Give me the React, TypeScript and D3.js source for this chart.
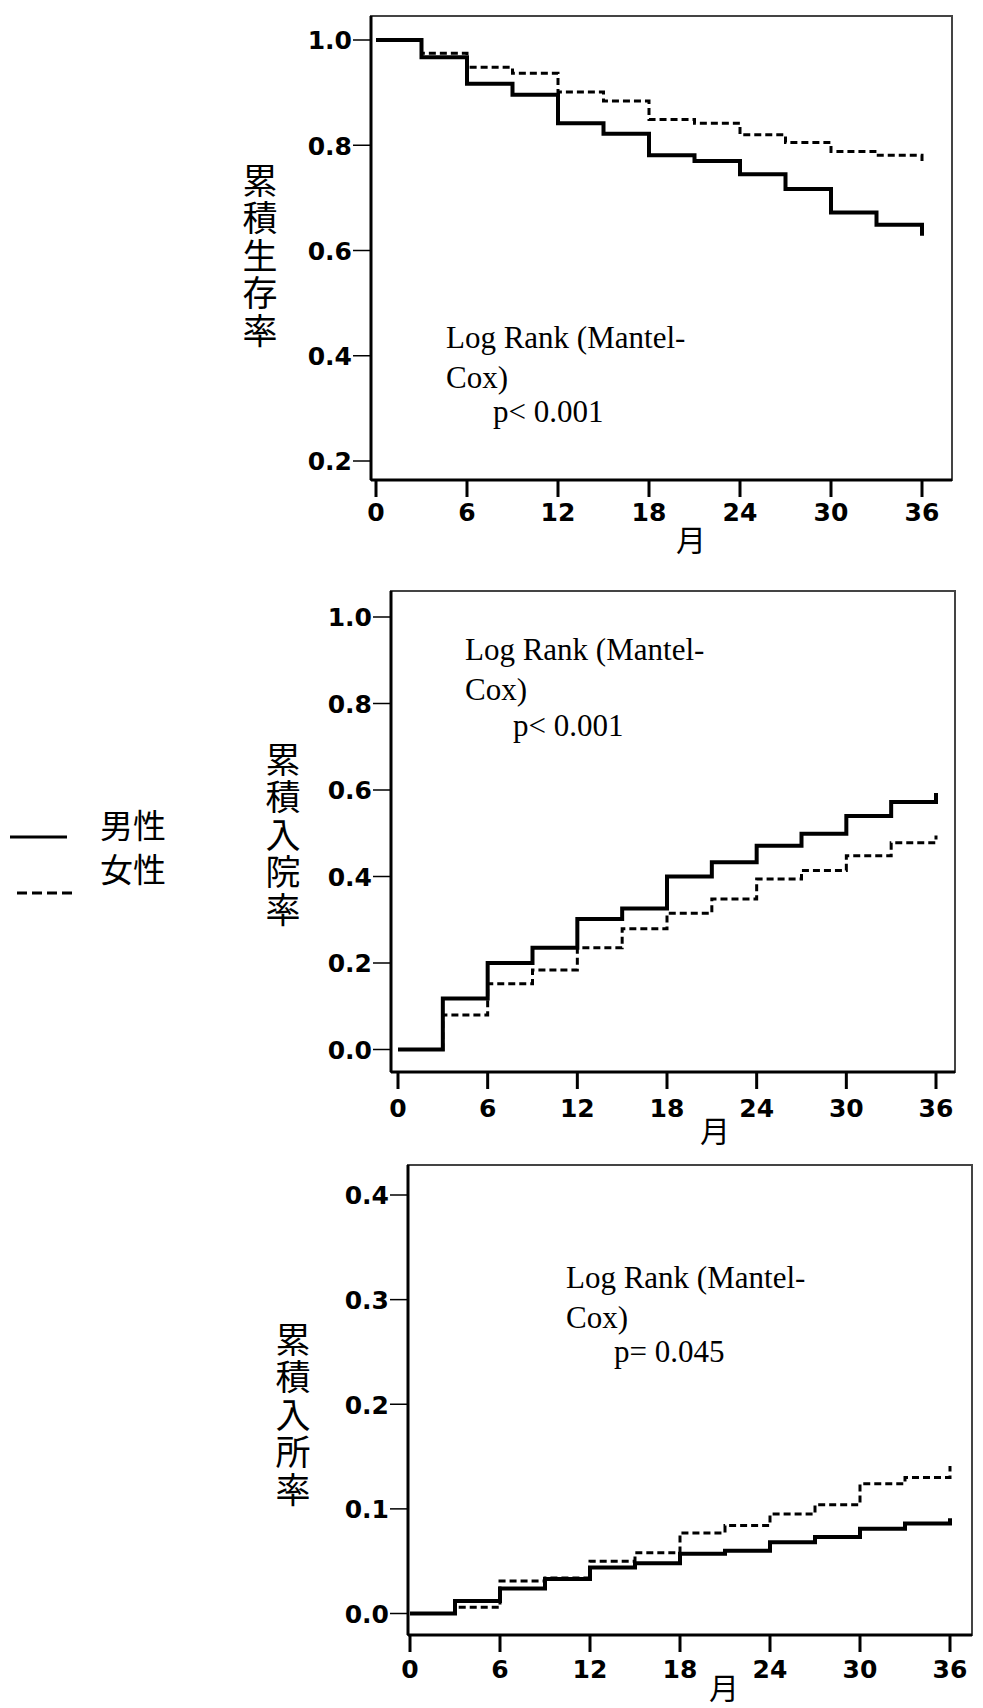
import * as d3 from 'd3'

// months at which the Kaplan-Meier steps change
const months = [0, 3, 6, 9, 12, 15, 18, 21, 24, 27, 30, 33, 36]
const xTicks = [0, 6, 12, 18, 24, 30, 36]

// 累積生存率
const survivalMale = [1.0, 0.967, 0.917, 0.896, 0.842, 0.822, 0.781, 0.770, 0.745, 0.717, 0.672, 0.649, 0.628]
const survivalFemale = [1.0, 0.975, 0.948, 0.937, 0.901, 0.884, 0.849, 0.842, 0.820, 0.805, 0.788, 0.781, 0.764]
// 累積入院率
const admissionMale = [0, 0.118, 0.2, 0.235, 0.302, 0.326, 0.40, 0.433, 0.471, 0.499, 0.540, 0.572, 0.593]
const admissionFemale = [0, 0.080, 0.152, 0.184, 0.235, 0.279, 0.315, 0.348, 0.394, 0.414, 0.448, 0.478, 0.495]
// 累積入所率
const institutionMale = [0, 0.012, 0.024, 0.033, 0.044, 0.048, 0.057, 0.060, 0.068, 0.073, 0.081, 0.086, 0.091]
const institutionFemale = [0, 0.006, 0.031, 0.034, 0.050, 0.058, 0.077, 0.084, 0.095, 0.104, 0.124, 0.130, 0.141]

const survivalTicks = [0.2, 0.4, 0.6, 0.8, 1.0]
const admissionTicks = [0, 0.2, 0.4, 0.6, 0.8, 1.0]
const institutionTicks = [0, 0.1, 0.2, 0.3, 0.4]

const yTitles = ['累積生存率', '累積入院率', '累積入所率']
const pTexts = ['p< 0.001', 'p< 0.001', 'p= 0.045']
const legendLabels = ['男性', '女性']

const TICK_FONT = '"DejaVu Sans", sans-serif'
const CJK_FONT = '"Noto Sans CJK JP", "Noto Sans", sans-serif'
const SERIF = '"Liberation Serif", "Times New Roman", serif'

interface Layout {
  frame: [number, number, number, number] // left, top, right, bottom
  xRange: [number, number]
  yRange: [number, number]
  xLabelY: number
  monthLabel: [number, number]
  title: [number, number]
  note: [number, number, number, number, number] // x, y1, y2, y3, pX
}

const layouts: Layout[] = [
  { frame: [371, 16, 952, 480], xRange: [376, 922], yRange: [461, 40], xLabelY: 521,
    monthLabel: [691, 551], title: [260, 163], note: [446, 348, 388, 422, 493] },
  { frame: [391, 591, 955, 1072], xRange: [398, 936], yRange: [1049.5, 617], xLabelY: 1117,
    monthLabel: [715, 1142], title: [283, 742], note: [465, 660, 700, 736, 513] },
  { frame: [408, 1165, 972, 1635], xRange: [410, 950], yRange: [1613.5, 1195], xLabelY: 1678,
    monthLabel: [724, 1699], title: [293, 1322], note: [566, 1288, 1328, 1362, 614] },
]

function Panel({ layout, male, female, ticks, domain, title, p }: {
  layout: Layout; male: number[]; female: number[]; ticks: number[]
  domain: [number, number]; title: string; p: string
}) {
  const [fl, ft, fr, fb] = layout.frame
  const x = d3.scaleLinear().domain([0, 36]).range(layout.xRange)
  const y = d3.scaleLinear().domain(domain).range(layout.yRange)
  const line = d3.line<number>()
    .x((_, i) => x(months[i]))
    .y(d => y(d))
    .curve(d3.curveStepAfter)
  const [nx, n1, n2, n3, px] = layout.note

  return (
    <g>
      {/* frame */}
      <rect x={fl} y={ft} width={fr - fl} height={fb - ft} fill="none" stroke="#444" strokeWidth={2} />
      <line x1={fl} x2={fl} y1={ft} y2={fb} stroke="#000" strokeWidth={3} />
      <line x1={fl} x2={fr} y1={fb} y2={fb} stroke="#000" strokeWidth={3} />

      {/* y axis */}
      {ticks.map(t => (
        <g key={t}>
          <line x1={fl - 18} x2={fl} y1={y(t)} y2={y(t)} stroke="#000" strokeWidth={1.5} />
          <text x={fl - 19} y={y(t)} dy="0.37em" textAnchor="end" fontFamily={TICK_FONT}
            fontWeight="bold" fontSize={25} fill="#000">{t.toFixed(1)}</text>
        </g>
      ))}

      {/* x axis */}
      {xTicks.map(t => (
        <g key={t}>
          <line x1={x(t)} x2={x(t)} y1={fb} y2={fb + 17} stroke="#000" strokeWidth={3} />
          <text x={x(t)} y={layout.xLabelY} textAnchor="middle" fontFamily={TICK_FONT}
            fontWeight="bold" fontSize={25} fill="#000">{t}</text>
        </g>
      ))}
      <text x={layout.monthLabel[0]} y={layout.monthLabel[1]} textAnchor="middle"
        fontFamily={CJK_FONT} fontSize={30} fill="#000">月</text>

      {/* y title, written vertically */}
      <text x={layout.title[0]} y={layout.title[1]} writingMode="vertical-rl"
        fontFamily={CJK_FONT} fontSize={35} letterSpacing={2.5} fill="#000">{title}</text>

      {/* curves */}
      <path d={line(female) ?? ''} fill="none" stroke="#000" strokeWidth={3} strokeDasharray="7,4" />
      <path d={line(male) ?? ''} fill="none" stroke="#000" strokeWidth={4} />

      {/* test note */}
      <g fontFamily={SERIF} fontSize={31} fill="#000">
        <text x={nx} y={n1}>Log Rank (Mantel-</text>
        <text x={nx} y={n2}>Cox)</text>
        <text x={px} y={n3}>{p}</text>
      </g>
    </g>
  )
}

export default function App() {
  return (
    <div style={{ position: 'absolute', left: 0, top: 0 }}>
      <svg width={983} height={1708} style={{ display: 'block', background: '#fff' }}>
        <Panel layout={layouts[0]} male={survivalMale} female={survivalFemale} ticks={survivalTicks}
          domain={[0.2, 1.0]} title={yTitles[0]} p={pTexts[0]} />
        <Panel layout={layouts[1]} male={admissionMale} female={admissionFemale} ticks={admissionTicks}
          domain={[0, 1.0]} title={yTitles[1]} p={pTexts[1]} />
        <Panel layout={layouts[2]} male={institutionMale} female={institutionFemale} ticks={institutionTicks}
          domain={[0, 0.4]} title={yTitles[2]} p={pTexts[2]} />

        {/* legend */}
        <line x1={10} x2={67} y1={837} y2={837} stroke="#000" strokeWidth={3} />
        <line x1={17} x2={72} y1={893} y2={893} stroke="#000" strokeWidth={3} strokeDasharray="10,5" />
        <text fontFamily={CJK_FONT} fontSize={33} fill="#000">
          {legendLabels.map((l, i) => (
            <tspan key={l} x={100} y={838 + i * 44}>{l}</tspan>
          ))}
        </text>
      </svg>
    </div>
  )
}
